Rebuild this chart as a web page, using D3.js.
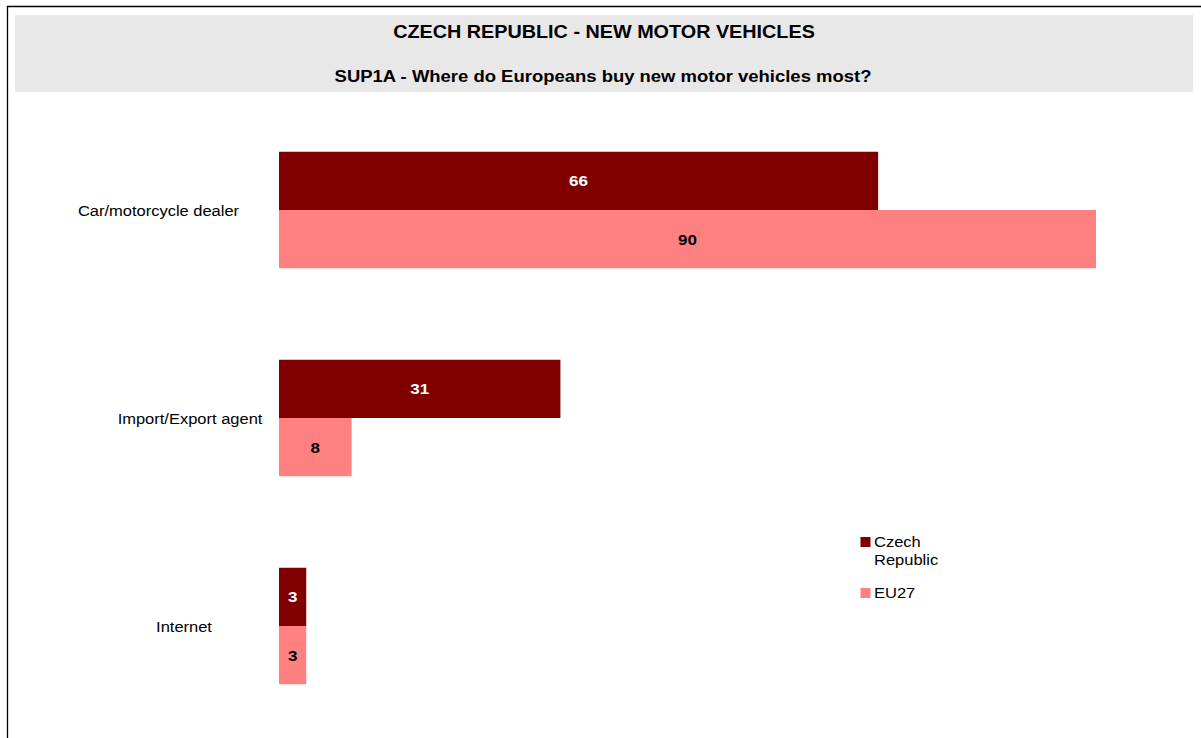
<!DOCTYPE html>
<html><head><meta charset="utf-8">
<script src="https://cdn.jsdelivr.net/npm/d3@7"></script>
<style>body{margin:0;background:#fff}svg{display:block}text{font-family:"Liberation Sans",Arial,sans-serif}</style>
</head><body>
<script>
const categories = ["Car/motorcycle dealer", "Import/Export agent", "Internet"];
const seriesNames = ["Czech Republic", "EU27"];
const czechValues = [66, 31, 3];
const eu27Values = [90, 8, 3];
const title = "CZECH REPUBLIC - NEW MOTOR VEHICLES";
const subtitle = "SUP1A - Where do Europeans buy new motor vehicles most?";

const W = 1201, H = 738;
const colors = ["#800000", "#FF8080"];
const labelColors = ["#ffffff", "#000000"];
const catLabelCenters = [158.5, 190, 184];
const SX = 1.1; // horizontal text stretch seen in reference

const svg = d3.select("body").append("svg").attr("width", W).attr("height", H);

function txt(sel, x, y, size, opts = {}) {
  return sel.append("text")
    .attr("transform", `translate(${x},${y}) scale(${SX},1)`)
    .attr("font-size", size)
    .attr("font-weight", opts.bold ? "bold" : null)
    .attr("text-anchor", opts.anchor || "start")
    .attr("fill", opts.fill || "#000");
}

// frame
svg.append("line").attr("x1", 7).attr("x2", W).attr("y1", 6.5).attr("y2", 6.5).attr("stroke", "#000").attr("stroke-width", 1.3);
svg.append("line").attr("x1", 7.5).attr("x2", 7.5).attr("y1", 6).attr("y2", H).attr("stroke", "#000").attr("stroke-width", 1.3);

// header
svg.append("rect").attr("x", 15).attr("y", 15).attr("width", 1178).attr("height", 77).attr("fill", "#E8E8E8");
txt(svg, 604, 37.5, 18, {bold: true, anchor: "middle"}).text(title);
txt(svg, 603, 82, 16.8, {bold: true, anchor: "middle"}).text(subtitle);

const x = d3.scaleLinear().domain([0, 90]).range([279, 1096]);
const y = d3.scaleBand().domain(categories).range([106, 730]).paddingInner(0.44).paddingOuter(0.22);
const ySub = d3.scaleBand().domain(seriesNames).range([0, y.bandwidth()]);

const data = categories.map((c, i) => ({cat: c, idx: i, vals: [czechValues[i], eu27Values[i]]}));

data.forEach(d => {
  const g = svg.append("g").attr("transform", `translate(0,${y(d.cat)})`);
  d.vals.forEach((v, j) => {
    g.append("rect")
      .attr("x", x(0)).attr("y", ySub(seriesNames[j]))
      .attr("width", x(v) - x(0)).attr("height", ySub.bandwidth())
      .attr("fill", colors[j]);
    txt(g, (x(v) + x(0)) / 2, ySub(seriesNames[j]) + ySub.bandwidth() / 2 + 5.5, 15.5,
        {bold: true, anchor: "middle", fill: labelColors[j]}).text(v);
  });
  txt(g, catLabelCenters[d.idx], y.bandwidth() / 2 + 5.5, 15, {anchor: "middle"}).text(d.cat);
});

// legend
const leg = svg.append("g");
leg.append("rect").attr("x", 860.5).attr("y", 537).attr("width", 10).attr("height", 10).attr("fill", colors[0]);
txt(leg, 874, 547, 15).text("Czech");
txt(leg, 874, 565, 15).text("Republic");
leg.append("rect").attr("x", 860.5).attr("y", 588).attr("width", 10).attr("height", 10).attr("fill", colors[1]);
txt(leg, 874, 598, 15).text(seriesNames[1]);
</script>
</body></html>
